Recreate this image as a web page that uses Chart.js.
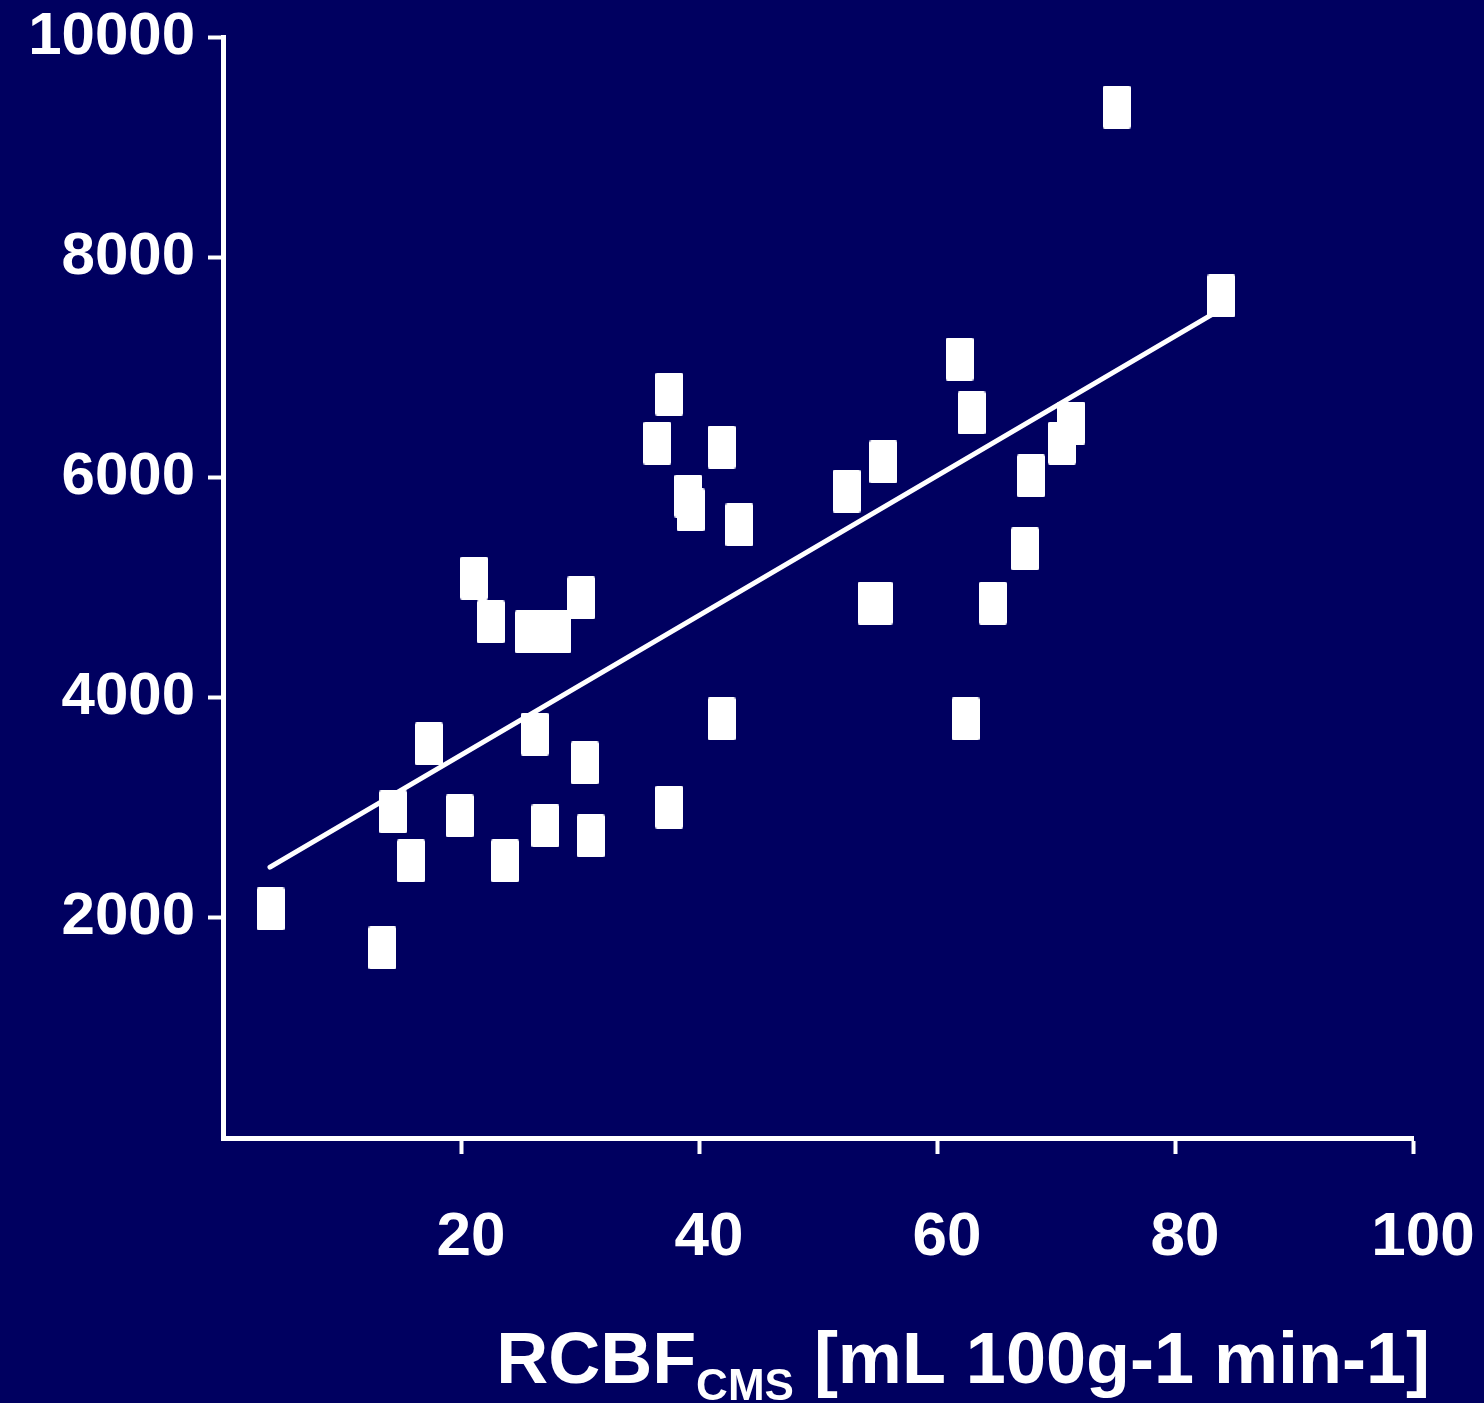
<!DOCTYPE html>
<html>
<head>
<meta charset="utf-8">
<script src="https://cdn.jsdelivr.net/npm/chart.js@4.4.1/dist/chart.umd.min.js"></script>
<style>
  html, body { margin: 0; padding: 0; background: #000060; }
  #wrap { width: 1484px; height: 1403px; position: relative; }
</style>
</head>
<body>
<div id="wrap"><canvas id="chart"></canvas></div>
<script>
var xValues = [4.0, 13.4, 14.3, 15.8, 17.3, 19.9, 21.1, 22.5, 23.7, 25.7,
               26.9, 28.1, 30.1, 26.2, 30.4, 27.1, 30.9, 37.5, 37.5, 36.5,
               41.9, 39.1, 39.3, 43.4, 41.9, 52.4, 54.5, 55.1, 55.5, 61.9,
               62.9, 62.4, 64.7, 67.4, 67.9, 70.5, 71.3, 75.1, 83.9];
var yValues = [2080, 1726, 2961, 2516, 3579, 2925, 5086, 4687, 2516, 4596,
               4596, 4596, 4905, 3669, 3406, 2834, 2743, 3006, 6757, 6312,
               6276, 5831, 5704, 5568, 3806, 5876, 4859, 4859, 6140, 7075,
               6585, 3806, 4859, 5350, 6013, 6312, 6494, 9364, 7648];
// regression line end points
var fitX = [3.95, 83.2];
var fitY = [2460, 7485];

var xTicks = [20, 40, 60, 80, 100];
var yTicks = [2000, 4000, 6000, 8000, 10000];

var NAVY = '#000060';
var FONT = '"Liberation Sans", Arial, Helvetica, sans-serif';

// white upright rectangle marker
var marker = document.createElement('canvas');
marker.width = 28;
marker.height = 43;
(function () {
  var c = marker.getContext('2d');
  c.fillStyle = '#ffffff';
  c.beginPath();
  c.roundRect(0, 0, 28, 43, 2);
  c.fill();
})();

var bgPlugin = {
  id: 'bg',
  beforeDraw: function (chart) {
    var ctx = chart.ctx;
    ctx.save();
    ctx.fillStyle = NAVY;
    ctx.fillRect(0, 0, chart.width, chart.height);
    ctx.restore();
  }
};

// x axis title with a subscript
var xTitlePlugin = {
  id: 'xTitle',
  afterDraw: function (chart) {
    var ctx = chart.ctx;
    var parts = [
      { t: 'RCBF', f: 'bold 72px ' + FONT, dy: 0 },
      { t: 'CMS', f: 'bold 44px ' + FONT, dy: 17 },
      { t: ' [mL 100g-1 min-1]', f: 'bold 72px ' + FONT, dy: 0 }
    ];
    ctx.save();
    ctx.fillStyle = '#ffffff';
    ctx.textBaseline = 'alphabetic';
    var total = 0;
    parts.forEach(function (p) { ctx.font = p.f; p.w = ctx.measureText(p.t).width; total += p.w; });
    var x = chart.chartArea.right + 17 - total;
    var base = chart.height - 20;
    parts.forEach(function (p) {
      ctx.font = p.f;
      ctx.fillText(p.t, x, base + p.dy);
      x += p.w;
    });
    ctx.restore();
  }
};

var hideZero = function (ctx) {
  return ctx.tick && ctx.tick.value === 0 ? 'rgba(0,0,0,0)' : '#ffffff';
};

var points = xValues.map(function (x, i) { return { x: x, y: yValues[i] }; });
var fit = fitX.map(function (x, i) { return { x: x, y: fitY[i] }; });

new Chart(document.getElementById('chart'), {
  type: 'scatter',
  data: {
    datasets: [
      {
        type: 'line',
        data: fit,
        borderColor: '#ffffff',
        borderWidth: 5,
        borderCapStyle: 'round',
        pointRadius: 0,
        fill: false,
        order: 2
      },
      {
        data: points,
        pointStyle: marker,
        backgroundColor: '#ffffff',
        borderColor: '#ffffff',
        order: 1
      }
    ]
  },
  plugins: [bgPlugin, xTitlePlugin],
  options: {
    responsive: true,
    maintainAspectRatio: false,
    animation: false,
    layout: { padding: { top: 37, right: 71, bottom: 135, left: 0 } },
    plugins: {
      legend: { display: false },
      tooltip: { enabled: false }
    },
    scales: {
      x: {
        type: 'linear',
        min: 0,
        max: 100,
        afterBuildTicks: function (scale) {
          scale.ticks = [0].concat(xTicks).map(function (v) { return { value: v }; });
        },
        afterFit: function (scale) {
          scale.height = 130;
          scale.paddingLeft = 0;
          scale.paddingRight = 0;
        },
        border: { display: true, color: '#ffffff', width: 5 },
        grid: {
          drawOnChartArea: false,
          drawTicks: true,
          tickLength: 16,
          tickWidth: 4,
          color: hideZero,
          tickColor: hideZero
        },
        ticks: {
          color: '#ffffff',
          font: { family: FONT, size: 62, weight: 'bold' },
          padding: 47,
          labelOffset: 10,
          maxRotation: 0,
          autoSkip: false,
          callback: function (v) { return v === 0 ? '' : v; }
        }
      },
      y: {
        type: 'linear',
        min: 0,
        max: 10000,
        afterBuildTicks: function (scale) {
          scale.ticks = [0].concat(yTicks).map(function (v) { return { value: v }; });
        },
        afterFit: function (scale) {
          scale.width = 223;
          scale.paddingTop = 0;
          scale.paddingBottom = 0;
        },
        border: { display: true, color: '#ffffff', width: 5 },
        grid: {
          drawOnChartArea: false,
          drawTicks: true,
          tickLength: 15,
          tickWidth: 4,
          color: hideZero,
          tickColor: hideZero
        },
        ticks: {
          color: '#ffffff',
          font: { family: FONT, size: 60, weight: 'bold' },
          padding: 13,
          autoSkip: false,
          callback: function (v) { return v === 0 ? '' : v; }
        }
      }
    }
  }
});
</script>
</body>
</html>
